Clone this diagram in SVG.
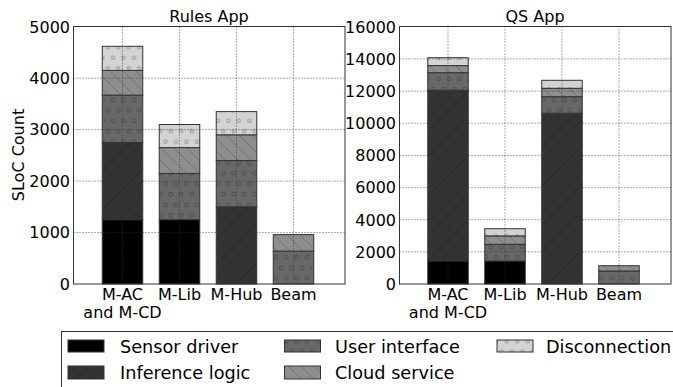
<svg xmlns="http://www.w3.org/2000/svg" xmlns:xlink="http://www.w3.org/1999/xlink" width="673" height="387" viewBox="0 0 673 387">
  <style>
    text { font-family: "DejaVu Sans", "Liberation Sans", sans-serif; fill: #000; }
    .t16 { font-size: 16px; }
    .leg { font-size: 17.7px; }
    .ytl { text-anchor: end; }
    .mid { text-anchor: middle; }
    .bar { stroke: #333; stroke-width: 1; }
    .spine { fill: none; stroke: #333; stroke-width: 1; }
    .grid { stroke: #333; stroke-width: 0.8; stroke-dasharray: 1 2; fill: none; }
    .sd { fill: #000; }
    .inf { fill: url(#hInf); }
    .ui { fill: url(#hUi); }
    .cl { fill: url(#hCl); }
    .dc { fill: url(#hDc); }
  </style>
  <defs>
    <path id="star" d="M0,-2.5 L0.61,-0.84 L2.38,-0.77 L0.99,0.32 L1.47,2.02 L0,1.04 L-1.47,2.02 L-0.99,0.32 L-2.38,-0.77 L-0.61,-0.84 Z" fill="none" stroke="#9a9a9a" stroke-width="0.8"/>
    <!-- "/" hatch -->
    <pattern id="hInf" patternUnits="userSpaceOnUse" width="13" height="13">
      <rect width="13" height="13" fill="#333"/>
      <path d="M-1,1 L1,-1 M0,13 L13,0 M12,14 L14,12" stroke="#252525" stroke-width="0.8"/>
    </pattern>
    <!-- "o" hatch -->
    <pattern id="hUi" patternUnits="userSpaceOnUse" width="10.5" height="21">
      <rect width="10.5" height="21" fill="#686868"/>
      <circle cx="2.7" cy="5.25" r="2" fill="none" stroke="#474747" stroke-width="0.8"/>
      <circle cx="7.95" cy="15.75" r="2" fill="none" stroke="#474747" stroke-width="0.8"/>
    </pattern>
    <!-- "\" hatch -->
    <pattern id="hCl" patternUnits="userSpaceOnUse" width="13" height="13">
      <rect width="13" height="13" fill="#8e8e8e"/>
      <path d="M-1,12 L1,14 M0,0 L13,13 M12,-1 L14,1" stroke="#6c6c6c" stroke-width="0.8"/>
    </pattern>
    <!-- "*" hatch -->
    <pattern id="hDc" patternUnits="userSpaceOnUse" width="10.5" height="21">
      <rect width="10.5" height="21" fill="#d3d3d3"/>
      <use xlink:href="#star" x="2.7" y="5.25"/>
      <use xlink:href="#star" x="7.95" y="15.75"/>
    </pattern>
  </defs>

  <!-- Left panel: Rules App -->
  <g id="rules-app">
    <g id="rules-bars">
      <!-- M-AC and M-CD -->
      <rect class="bar sd" x="102.25" y="219.7" width="40.5" height="64.3"/>
      <rect class="bar inf" x="102.25" y="142.5" width="40.5" height="77.2"/>
      <rect class="bar ui" x="102.25" y="95.1" width="40.5" height="47.4"/>
      <rect class="bar cl" x="102.25" y="70.4" width="40.5" height="24.7"/>
      <rect class="bar dc" x="102.25" y="46.3" width="40.5" height="24.1"/>
      <!-- M-Lib -->
      <rect class="bar sd" x="159.25" y="219.7" width="40.5" height="64.3"/>
      <rect class="bar ui" x="159.25" y="173.4" width="40.5" height="46.3"/>
      <rect class="bar cl" x="159.25" y="147.6" width="40.5" height="25.8"/>
      <rect class="bar dc" x="159.25" y="124.5" width="40.5" height="23.1"/>
      <!-- M-Hub -->
      <rect class="bar inf" x="216.25" y="206.8" width="40.5" height="77.2"/>
      <rect class="bar ui" x="216.25" y="160.5" width="40.5" height="46.3"/>
      <rect class="bar cl" x="216.25" y="134.8" width="40.5" height="25.7"/>
      <rect class="bar dc" x="216.25" y="111.6" width="40.5" height="23.2"/>
      <!-- Beam -->
      <rect class="bar ui" x="273.25" y="251.1" width="40.5" height="32.9"/>
      <rect class="bar cl" x="273.25" y="234.6" width="40.5" height="16.5"/>
    </g>
    <g id="rules-grid" class="grid">
      <path d="M73.5,232.5 H345 M73.5,181.1 H345 M73.5,129.6 H345 M73.5,78.2 H345"/>
      <path d="M122.5,26.5 V284 M179.5,26.5 V284 M236.5,26.5 V284 M293.5,26.5 V284"/>
    </g>
    <rect class="spine" x="73.5" y="26.5" width="271.5" height="257.5"/>
    <g id="rules-yticks" class="t16 ytl">
      <text x="70" y="289.8">0</text>
      <text x="70" y="238.3">1000</text>
      <text x="70" y="186.9">2000</text>
      <text x="70" y="135.4">3000</text>
      <text x="70" y="83.9">4000</text>
      <text x="70" y="32.5">5000</text>
    </g>
    <g id="rules-xticks" class="t16 mid">
      <text x="122.5" y="299.5">M-AC</text>
      <text x="122.5" y="318">and M-CD</text>
      <text x="179.5" y="299.5">M-Lib</text>
      <text x="236.5" y="299.5">M-Hub</text>
      <text x="293.5" y="299.5">Beam</text>
    </g>
    <text class="t16 mid" x="209" y="22">Rules App</text>
    <text class="t16 mid" transform="translate(24,155) rotate(-90)">SLoC Count</text>
  </g>

  <!-- Right panel: QS App -->
  <g id="qs-app">
    <g id="qs-bars">
      <!-- M-AC and M-CD -->
      <rect class="bar sd" x="427.75" y="261" width="40.5" height="23"/>
      <rect class="bar inf" x="427.75" y="90.2" width="40.5" height="170.8"/>
      <rect class="bar ui" x="427.75" y="72.7" width="40.5" height="17.5"/>
      <rect class="bar cl" x="427.75" y="65.6" width="40.5" height="7.1"/>
      <rect class="bar dc" x="427.75" y="57.7" width="40.5" height="7.9"/>
      <!-- M-Lib -->
      <rect class="bar sd" x="484.75" y="261" width="40.5" height="23"/>
      <rect class="bar ui" x="484.75" y="244.3" width="40.5" height="16.7"/>
      <rect class="bar cl" x="484.75" y="235.9" width="40.5" height="8.4"/>
      <rect class="bar dc" x="484.75" y="228.7" width="40.5" height="7.2"/>
      <!-- M-Hub -->
      <rect class="bar inf" x="541.75" y="113.2" width="40.5" height="170.8"/>
      <rect class="bar ui" x="541.75" y="96.7" width="40.5" height="16.5"/>
      <rect class="bar cl" x="541.75" y="88.3" width="40.5" height="8.4"/>
      <rect class="bar dc" x="541.75" y="80.3" width="40.5" height="8"/>
      <!-- Beam -->
      <rect class="bar ui" x="598.75" y="271" width="40.5" height="13"/>
      <rect class="bar cl" x="598.75" y="265.7" width="40.5" height="5.3"/>
    </g>
    <g id="qs-grid" class="grid">
      <path d="M399.5,251.8 H671 M399.5,219.7 H671 M399.5,187.6 H671 M399.5,155.4 H671 M399.5,123.2 H671 M399.5,91.1 H671 M399.5,58.9 H671"/>
      <path d="M448,26.5 V284 M505,26.5 V284 M562,26.5 V284 M619,26.5 V284"/>
    </g>
    <rect class="spine" x="399.5" y="26.5" width="271.5" height="257.5"/>
    <g id="qs-yticks" class="t16 ytl">
      <text x="396" y="289.8">0</text>
      <text x="396" y="257.7">2000</text>
      <text x="396" y="225.5">4000</text>
      <text x="396" y="193.3">6000</text>
      <text x="396" y="161.2">8000</text>
      <text x="396" y="129">10000</text>
      <text x="396" y="96.9">12000</text>
      <text x="396" y="64.7">14000</text>
      <text x="396" y="32.5">16000</text>
    </g>
    <g id="qs-xticks" class="t16 mid">
      <text x="448" y="299.5">M-AC</text>
      <text x="448" y="318">and M-CD</text>
      <text x="505" y="299.5">M-Lib</text>
      <text x="562" y="299.5">M-Hub</text>
      <text x="619" y="299.5">Beam</text>
    </g>
    <text class="t16 mid" x="535" y="22">QS App</text>
  </g>

  <!-- Legend -->
  <g id="legend">
    <rect x="61.5" y="331.5" width="700" height="100" fill="#fff" stroke="#333" stroke-width="1"/>
    <g id="leg-sensor">
      <rect class="bar sd" x="68" y="340" width="36" height="12"/>
      <text class="leg" x="120" y="353">Sensor driver</text>
    </g>
    <g id="leg-inference">
      <rect class="bar inf" x="68" y="366" width="36" height="13"/>
      <text class="leg" x="120" y="378.5">Inference logic</text>
    </g>
    <g id="leg-ui">
      <rect class="bar ui" x="284.5" y="340" width="36" height="12"/>
      <text class="leg" x="335" y="353">User interface</text>
    </g>
    <g id="leg-cloud">
      <rect class="bar cl" x="284.5" y="366" width="36" height="13"/>
      <text class="leg" x="335" y="378.5">Cloud service</text>
    </g>
    <g id="leg-disc">
      <rect class="bar dc" x="497" y="340" width="36" height="12"/>
      <text class="leg" x="546" y="353">Disconnection</text>
    </g>
  </g>
</svg>
